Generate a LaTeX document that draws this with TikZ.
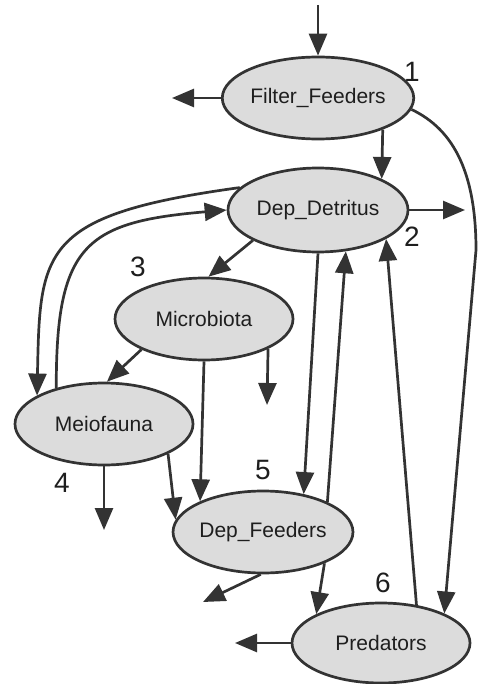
\documentclass[tikz,border=0pt]{standalone}
\usepackage{fontspec}
\setmainfont{Liberation Sans}
\usetikzlibrary{shapes.geometric,arrows.meta}
\definecolor{ln}{HTML}{333333}
\definecolor{fl}{HTML}{DCDCDC}
\definecolor{tx}{HTML}{1E1E1E}
\begin{document}
\begin{tikzpicture}[x=1pt,y=1pt,
  box/.style={ellipse,draw=ln,fill=fl,line width=2.7pt,inner sep=0pt,
    font=\fontsize{21}{25}\selectfont,text=tx},
  arr/.style={draw=ln,line width=2.7pt,-{Triangle[length=22pt,width=18pt]}},
  num/.style={font=\fontsize{28}{32}\selectfont,text=tx,inner sep=0pt}]
\useasboundingbox (0,0) rectangle (478,-684);
% nodes
\node[box,minimum width=180pt,minimum height=82pt] (FF) at (318,-98) {Filter\_Feeders};
\node[box,minimum width=180pt,minimum height=84pt] (DD) at (318,-210) {Dep\_Detritus};
\node[box,minimum width=178pt,minimum height=82pt] (MB) at (204,-319) {Microbiota};
\node[box,minimum width=178pt,minimum height=82pt] (MF) at (104,-424) {Meiofauna};
\node[box,minimum width=176pt,minimum height=82pt] (DF) at (263,-532) {Dep\_Feeders};
\node[box,minimum width=178pt,minimum height=80pt] (PR) at (381,-643) {Predators};
% labels
\node[num] (n1) at (412,-72) {1};
\node[num] (n2) at (412,-237) {2};
\node[num] (n3) at (138,-267) {3};
\node[num] (n4) at (62,-483) {4};
\node[num] (n5) at (263,-470) {5};
\node[num] (n6) at (383,-583) {6};
% free ends
\coordinate (top) at (318,-5);
\coordinate (ffl) at (172,-98);
\coordinate (ddr) at (465,-210);
\coordinate (mbd) at (267,-405);
\coordinate (mfd) at (104,-530);
\coordinate (dfd) at (203,-602);
\coordinate (prl) at (235,-643);
% edges
\draw[arr] (top) -- (FF.north);
\draw[arr] (FF.west) -- (ffl);
\draw[arr] (FF.-26) -- (DD.26);
\draw[arr] (FF.-7) .. controls (455,-130) and (476,-175) .. (476,-250) -- (PR.25);
\draw[arr] (DD.east) -- (ddr);
\draw[arr] (DD.164) .. controls (40,-215) and (40,-250) .. (MF.157);
\draw[arr] (MF.143) .. controls (56,-245) and (85,-222) .. (DD.west);
\draw[arr] (DD.205) -- (MB.84);
\draw[arr] (MB.206) -- (MF.86);
\draw[arr] (MB.-25) -- (mbd);
\draw[arr] (MB.south) -- (DF.154);
\draw[arr] (DD.south) -- (DF.43);
\draw[arr] (DF.25) -- (DD.-56);
\draw[arr] (MF.south) -- (mfd);
\draw[arr] (MF.-25) -- (DF.172);
\draw[arr] (DF.-93) -- (dfd);
\draw[arr] (DF.-27) -- (PR.156);
\draw[arr] (PR.47) -- (DD.-23);
\draw[arr] (PR.west) -- (prl);
\end{tikzpicture}
\end{document}
